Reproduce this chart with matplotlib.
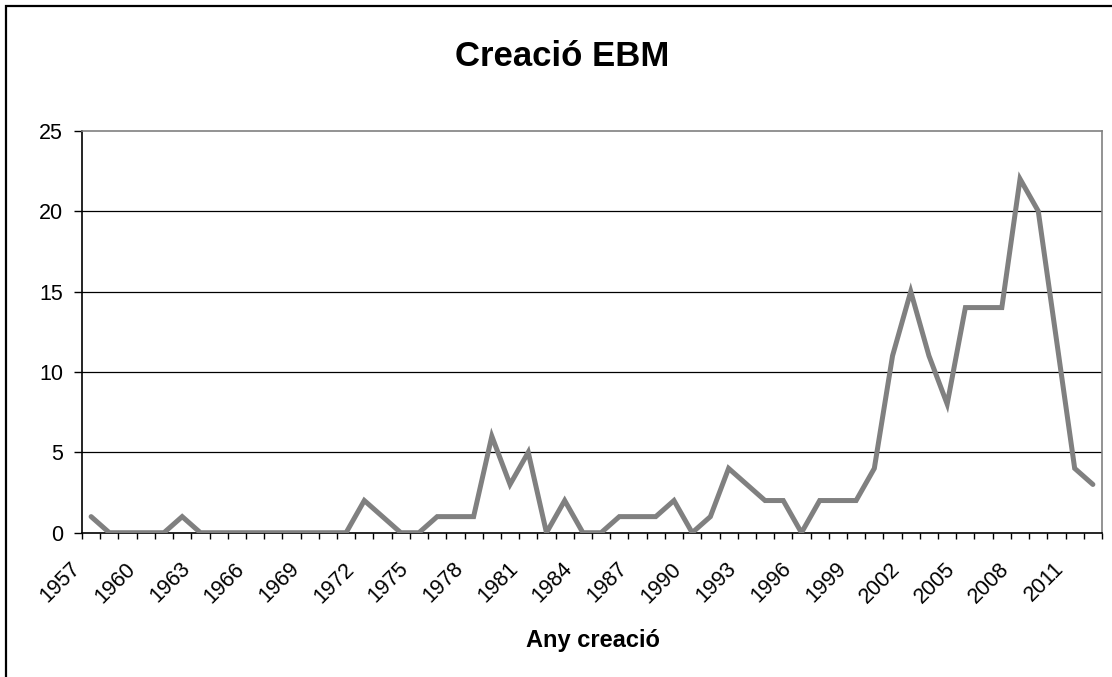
import matplotlib
matplotlib.use("Agg")
import matplotlib.pyplot as plt
from matplotlib.patches import Rectangle
import numpy as np

plt.rcParams['font.family'] = ['Liberation Sans', 'DejaVu Sans']

years = list(range(1957, 2013))
counts = [1, 0, 0, 0, 0, 1, 0, 0, 0, 0,
          0, 0, 0, 0, 0, 2, 1, 0, 0, 1,
          1, 1, 6, 3, 5, 0, 2, 0, 0, 1,
          1, 1, 2, 0, 1, 4, 3, 2, 2, 0,
          2, 2, 2, 4, 11, 15, 11, 8, 14, 14,
          14, 22, 20, 12, 4, 3]
y_ticks = [0, 5, 10, 15, 20, 25]

W, H = 1112, 677
fig = plt.figure(figsize=(W / 100, H / 100), dpi=100)
fig.patch.set_facecolor('white')

# outer chart-area border (cut off on the right and bottom)
fig.add_artist(Rectangle((6 / W, -0.05), 1.2, 1 - 6 / H + 0.05,
                         transform=fig.transFigure, fill=False,
                         edgecolor='black', linewidth=1.6))

ax = fig.add_axes([82 / W, 1 - 532.7 / H, (1102 - 82) / W, (532.7 - 130.7) / H])

x = np.arange(len(years))
ax.plot(x, counts, color='#808080', linewidth=3.6, solid_joinstyle='miter',
        solid_capstyle='round', zorder=3)

ax.set_xlim(-0.5, len(years) - 0.5)
ax.set_ylim(0, 25)
ax.set_yticks(y_ticks)
ax.set_yticklabels([str(v) for v in y_ticks], fontsize=15.5)
for v in y_ticks[1:-1]:
    ax.axhline(v, color='black', linewidth=0.9, zorder=1)

# category-boundary ticks, labels every 3rd year
ax.set_xticks(np.arange(len(years) + 1) - 0.5)
ax.set_xticklabels([])
ax.tick_params(axis='x', direction='out', length=4.5, width=1, color='black')
ax.tick_params(axis='y', direction='out', length=5.5, width=1, color='black', pad=8)
for i in range(0, len(years), 3):
    ax.text(i - 1.15, -1.6, str(years[i]), rotation=45, ha='right', va='top',
            fontsize=15.5, rotation_mode='anchor')

ax.spines['left'].set_color('black')
ax.spines['bottom'].set_color('black')
ax.spines['top'].set_color('#808080')
ax.spines['right'].set_color('#808080')
for s in ax.spines.values():
    s.set_linewidth(1.2)

fig.text(562 / W, 1 - 57 / H, 'Creació EBM', ha='center', va='center',
         fontsize=25, fontweight='bold')
fig.text(593 / W, 1 - 640 / H, 'Any creació', ha='center', va='center',
         fontsize=17, fontweight='bold')

fig.savefig('out.png', dpi=100)
